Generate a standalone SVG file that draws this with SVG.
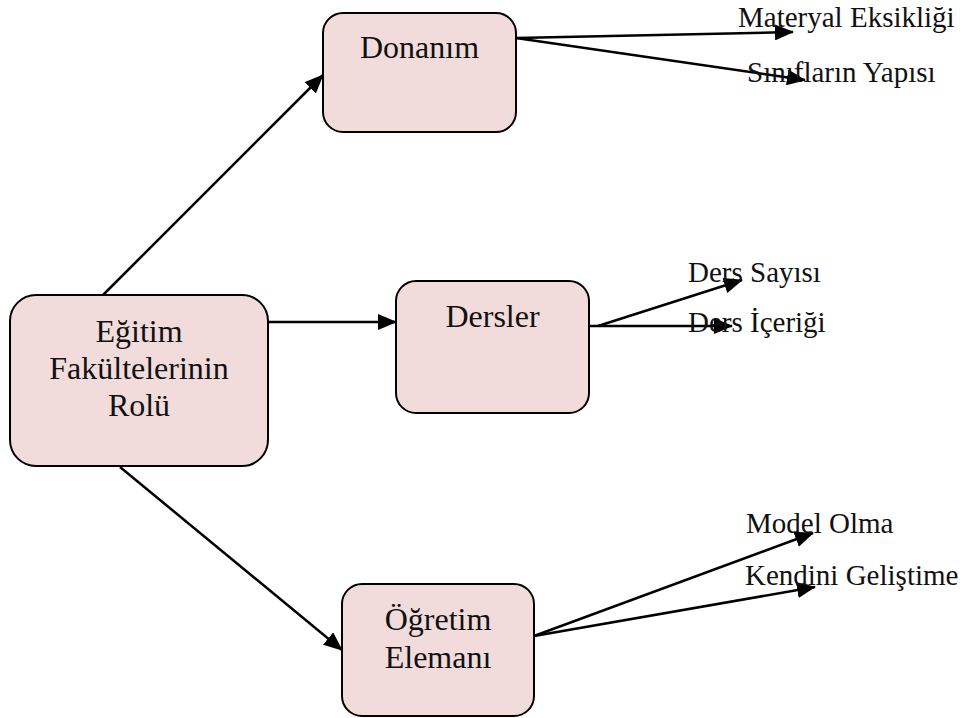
<svg xmlns="http://www.w3.org/2000/svg" width="966" height="718" viewBox="0 0 966 718">
  <style>
    .box { fill: #f2dcdb; stroke: #000; stroke-width: 2; }
    text { font-family: 'Liberation Serif', 'Times New Roman', 'DejaVu Serif', serif; fill: #111; }
    .lbl { font-size: 32px; text-anchor: middle; }
    .leaf { font-size: 29px; }
    .edge { stroke: #000; stroke-width: 2.5; fill: none; marker-end: url(#arrow); }
  </style>
  <defs>
    <marker id="arrow" markerUnits="userSpaceOnUse" markerWidth="20" markerHeight="16" refX="18" refY="8" orient="auto">
      <path d="M0,0 L19,8 L0,16 Z" fill="#000"/>
    </marker>
  </defs>
  <rect width="966" height="718" fill="#fff"/>

  <!-- connectors -->
  <g id="connectors">
    <line class="edge" x1="103" y1="295" x2="323" y2="75"/>
    <line class="edge" x1="268" y1="322" x2="396" y2="322"/>
    <line class="edge" x1="120" y1="467" x2="342" y2="650"/>
    <line class="edge" x1="516" y1="38" x2="793" y2="32"/>
    <line class="edge" x1="516" y1="38" x2="805" y2="80"/>
    <line class="edge" x1="598" y1="326" x2="742" y2="280"/>
    <line class="edge" x1="589" y1="326" x2="732" y2="326"/>
    <line class="edge" x1="534" y1="636" x2="813" y2="533"/>
    <line class="edge" x1="534" y1="636" x2="815" y2="587"/>
  </g>

  <!-- nodes -->
  <g id="egitim" font-family="Liberation Serif, serif">
    <rect class="box" x="10" y="295" width="258" height="171" rx="26"/>
    <text class="lbl" x="139" y="342">Eğitim</text>
    <text class="lbl" x="139" y="379">Fakültelerinin</text>
    <text class="lbl" x="139" y="416">Rolü</text>
  </g>
  <g id="donanim">
    <rect class="box" x="323" y="13" width="193" height="119" rx="20"/>
    <text class="lbl" x="419.5" y="58">Donanım</text>
  </g>
  <g id="dersler">
    <rect class="box" x="396" y="281" width="193" height="132" rx="20"/>
    <text class="lbl" x="492.5" y="327">Dersler</text>
  </g>
  <g id="ogretim">
    <rect class="box" x="342" y="584" width="192" height="132" rx="20"/>
    <text class="lbl" x="438" y="630">Öğretim</text>
    <text class="lbl" x="438" y="668">Elemanı</text>
  </g>

  <!-- leaf labels -->
  <g id="leaves">
    <text class="leaf" x="738" y="27">Materyal Eksikliği</text>
    <text class="leaf" x="747" y="82">Sınıfların Yapısı</text>
    <text class="leaf" x="688" y="282">Ders Sayısı</text>
    <text class="leaf" x="688" y="332">Ders İçeriği</text>
    <text class="leaf" x="746" y="533">Model Olma</text>
    <text class="leaf" x="745" y="585">Kendini Geliştime</text>
  </g>
</svg>
